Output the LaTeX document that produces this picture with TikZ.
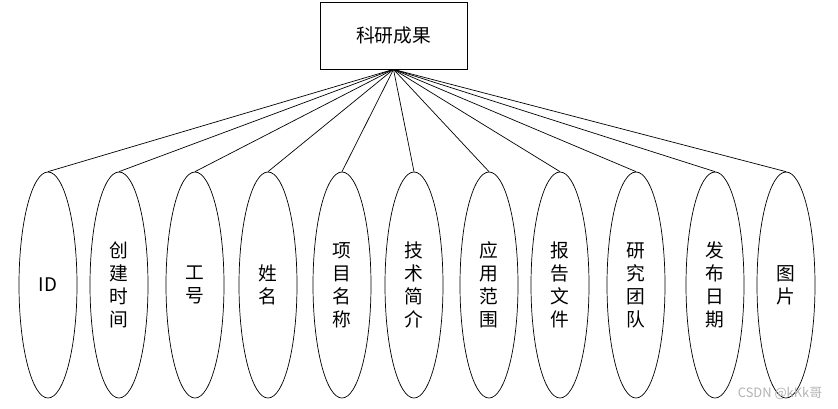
\documentclass[tikz,border=0pt]{standalone}
\usepackage{fontspec}
\setmainfont{Noto Sans CJK SC}
\usetikzlibrary{shapes.geometric}

\tikzset{
  entity/.style={draw,rectangle,minimum width=4.41cm,minimum height=2.01cm,
    inner sep=0pt,font=\fontsize{16}{19}\selectfont},
  attr/.style={draw,ellipse,minimum width=1.74cm,minimum height=6.78cm,
    inner sep=0pt,align=center,font=\fontsize{16}{19.6}\selectfont},
  link/.style={line width=0.6pt}
}

\begin{document}
\begin{tikzpicture}[x=0.03cm,y=-0.03cm,line width=0.6pt]
\useasboundingbox (0,0) rectangle (838,408);
% entity box at the top
\node[entity] (kycg) at (393.5,35.5) {科研成果};
% attribute ellipses
\node[attr] (id)   at (48,285)  {ID};
\node[attr] (cjsj) at (119,285) {创\\建\\时\\间};
\node[attr] (gh)   at (195,285) {工\\号};
\node[attr] (xm)   at (268,285) {姓\\名};
\node[attr] (xmmc) at (342,285) {项\\目\\名\\称};
\node[attr] (jsjj) at (414,285) {技\\术\\简\\介};
\node[attr] (yyfw) at (489,285) {应\\用\\范\\围};
\node[attr] (bgwj) at (560,285) {报\\告\\文\\件};
\node[attr] (yjtd) at (636,285) {研\\究\\团\\队};
\node[attr] (fbrq) at (715,285) {发\\布\\日\\期};
\node[attr] (tp)   at (786,285) {图\\片};
% links from the entity to each attribute
\draw[link] (kycg.south) -- (id.north);
\draw[link] (kycg.south) -- (cjsj.north);
\draw[link] (kycg.south) -- (gh.north);
\draw[link] (kycg.south) -- (xm.north);
\draw[link] (kycg.south) -- (xmmc.north);
\draw[link] (kycg.south) -- (jsjj.north);
\draw[link] (kycg.south) -- (yyfw.north);
\draw[link] (kycg.south) -- (bgwj.north);
\draw[link] (kycg.south) -- (yjtd.north);
\draw[link] (kycg.south) -- (fbrq.north);
\draw[link] (kycg.south) -- (tp.north);
% watermark
\node[text=black!30,font=\fontsize{11}{13}\selectfont] (wm) at (780,393) {CSDN @kKk哥};
\end{tikzpicture}
\end{document}
